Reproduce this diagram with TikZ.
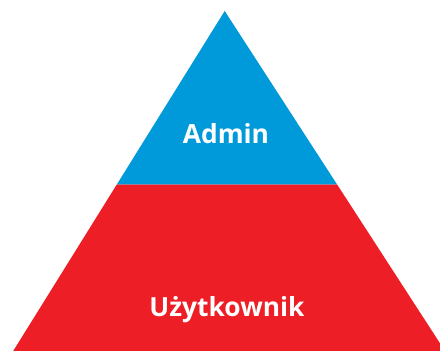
\documentclass[tikz,border=0pt]{standalone}
\usepackage{fontspec}
\setmainfont{Open Sans}
\usetikzlibrary{positioning}
\definecolor{adminblue}{RGB}{0,154,218}
\definecolor{userred}{RGB}{237,30,37}

\begin{document}
\begin{tikzpicture}[x=0.02cm,y=-0.02cm]
            \useasboundingbox (0,0) rectangle (440,351);
            \clip (0,0) rectangle (440,351);

            % Corners of the pyramid
            \coordinate (apex) at (224.7,11);
            \coordinate (midL) at (116.8,184.5);
            \coordinate (midR) at (337.1,184.5);
            \coordinate (baseL) at (13.2,351);
            \coordinate (baseR) at (445,351);

            % Lower layer
            \fill[userred] (midL) -- (midR) -- (baseR) -- (baseL) -- cycle;

            % Upper layer
            \fill[adminblue] (apex) -- (midR) -- (midL) -- cycle;

            % Labels
            \node[text=white, font=\fontsize{15}{18}\selectfont\bfseries, anchor=base] (admin) at (226,143.3) {Admin};
            \node[text=white, font=\fontsize{15}{18}\selectfont\bfseries, anchor=base] (user) at (227,316.7) {Użytkownik};
        \end{tikzpicture}
\end{document}
